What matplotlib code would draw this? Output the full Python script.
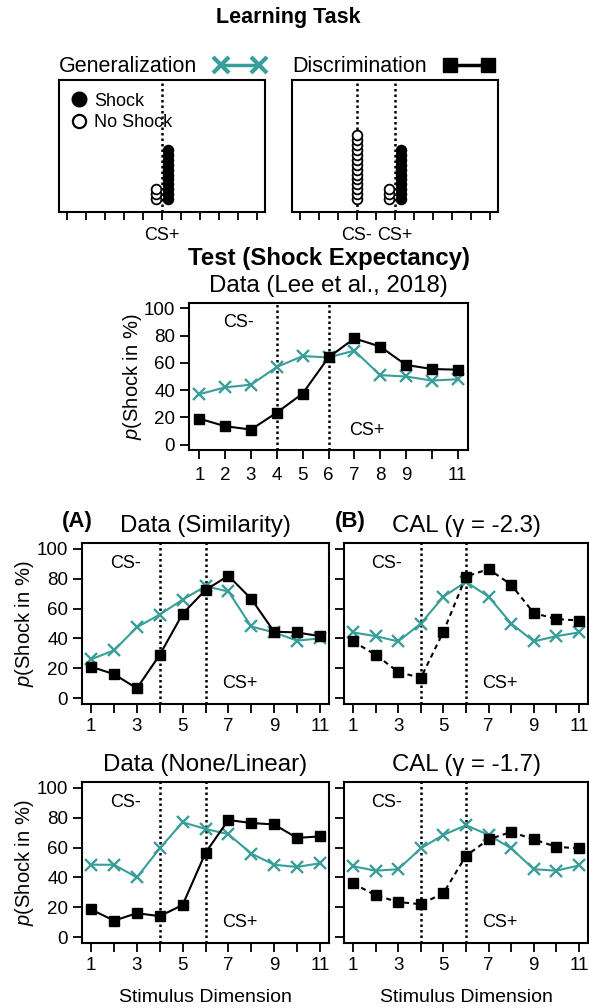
import numpy as np
import matplotlib.pyplot as plt
from matplotlib.lines import Line2D

plt.rcParams['font.family'] = ['Liberation Sans', 'DejaVu Sans']
plt.rcParams['mathtext.fontset'] = 'custom'
plt.rcParams['mathtext.it'] = 'Liberation Sans:italic'
plt.rcParams['mathtext.rm'] = 'Liberation Sans'

teal = "#3a9e98"

# Learning task (number of trials per stimulus)
cs_minus = 4
cs_plus = 6
n_cs_plus_shock = 11
n_cs_plus_noshock = 3
n_cs_minus_noshock = 14

# Test data: p(Shock in %) per stimulus
stim = np.arange(1, 12)
lee_gen = [37, 42, 44, 57, 65, 64, 69, 51, 50, 47, 48]
lee_dis = [19, 13.5, 11, 23.5, 37.5, 64, 78, 72, 58.5, 55.5, 55]
sim_gen = [26, 32, 47.5, 56, 66, 75, 71.5, 48, 44, 38.5, 40]
sim_dis = [21, 16, 6.5, 29, 56.5, 72.5, 82, 66.5, 44.5, 44, 41.5]
cal23_gen = [44, 41.5, 38, 50, 68, 78, 68, 50, 38, 41.5, 44]
cal23_dis = [38, 29, 17.5, 13.5, 44.5, 81.5, 86.5, 76, 57, 53, 52]
lin_gen = [48.5, 48.5, 40, 59.5, 77, 72.5, 69, 56, 48.5, 47, 49.5]
lin_dis = [18.5, 11, 16, 14, 21.5, 56.5, 78.5, 76.5, 75.5, 66.5, 67.5]
cal17_gen = [47.5, 44.5, 45.5, 59.5, 68.5, 75, 68.5, 59.5, 45.5, 44.5, 48]
cal17_dis = [36, 28, 23.5, 22, 29.5, 54.5, 65.5, 70.5, 65.5, 60.5, 59.5]

mid_labels = ['1', '2', '3', '4', '5', '6', '7', '8', '9', '', '11']
odd_labels = ['1', '', '3', '', '5', '', '7', '', '9', '', '11']

W, H = 589, 1008
fig = plt.figure(figsize=(W / 100, H / 100), dpi=100)

dotted = (0, (1, 1.2))


def px_axes(x0, y0, x1, y1):
    return fig.add_axes([x0 / W, 1 - y1 / H, (x1 - x0) / W, (y1 - y0) / H])


def frame(ax):
    for s in ax.spines.values():
        s.set_linewidth(1.5)


def learn_panel(ax, name, handle, labels):
    ax.axvline(cs_plus, color='black', ls=dotted, lw=1.8, zorder=1)
    ax.set_xlim(0.6, 11.4)
    ax.set_ylim(-1.65, 25.3)
    ax.set_xticks(stim)
    ax.set_xticklabels(labels)
    ax.set_yticks([])
    ax.tick_params(axis='x', length=6, width=1.3, labelsize=13, pad=5)
    frame(ax)
    leg = ax.legend([handle], [name], loc='lower left', bbox_to_anchor=(0, 1.02),
                    markerfirst=False, frameon=False, numpoints=2, fontsize=15.5,
                    handlelength=2.35, handletextpad=0.8, borderpad=0, borderaxespad=0)
    return leg


def trial_dots(ax, x, n, filled):
    y = np.arange(1, n + 1)
    ax.plot(np.full(n, x), y, ls='', marker='o', ms=7, mew=1.3,
            mec='black', mfc='black' if filled else 'white', zorder=3)


def test_panel(ax, gen, dis, dis_ls, title, xlabels, ylab=True):
    ax.axvline(cs_minus, color='black', ls=dotted, lw=1.8, zorder=1)
    ax.axvline(cs_plus, color='black', ls=dotted, lw=1.8, zorder=1)
    ax.plot(stim, gen, color=teal, marker='x', ms=9, mew=1.7, lw=1.5, zorder=2)
    ax.plot(stim, dis, color='black', marker='s', ms=7.2, ls=dis_ls, lw=1.5, zorder=3)
    ax.text(2.5, 90, "CS-", ha='center', va='center', fontsize=13)
    ax.text(7.5, 10, "CS+", ha='center', va='center', fontsize=13)
    ax.set_xlim(0.6, 11.4)
    ax.set_ylim(-4, 104)
    ax.set_xticks(stim)
    ax.set_xticklabels(xlabels)
    ax.set_yticks(range(0, 101, 20))
    if ylab:
        ax.set_ylabel(r"$p$(Shock in %)", fontsize=14.5, va='center')
    else:
        ax.set_yticklabels([])
    ax.tick_params(length=6.5, width=1.3, labelsize=13.5)
    frame(ax)
    ax.set_title(title, fontsize=17.3, pad=8)


# Learning task
ax1 = px_axes(59, 80, 265, 212)
ax2 = px_axes(292, 80, 498, 212)
gen_handle = Line2D([], [], color=teal, marker='x', ms=11, mew=3, lw=2.5)
dis_handle = Line2D([], [], color='black', marker='s', ms=10, lw=2.5)
leg1 = learn_panel(ax1, "Generalization", gen_handle,
                   ['', '', '', '', '', 'CS+', '', '', '', '', ''])
learn_panel(ax2, "Discrimination", dis_handle,
            ['', '', '', 'CS-', '', 'CS+', '', '', '', '', ''])
ax2.axvline(cs_minus, color='black', ls=dotted, lw=1.8, zorder=1)

trial_dots(ax1, cs_plus + 0.3, n_cs_plus_shock, True)
trial_dots(ax1, cs_plus - 0.3, n_cs_plus_noshock, False)
trial_dots(ax2, cs_plus + 0.3, n_cs_plus_shock, True)
trial_dots(ax2, cs_plus - 0.3, n_cs_plus_noshock, False)
trial_dots(ax2, cs_minus, n_cs_minus_noshock, False)

ax1.add_artist(leg1)
shock_h = Line2D([], [], ls='', marker='o', ms=10.5, mfc='black', mec='black')
noshock_h = Line2D([], [], ls='', marker='o', ms=9.5, mfc='white', mec='black', mew=1.6)
ax1.legend([shock_h, noshock_h], ["Shock", "No Shock"], loc='upper left',
           frameon=False, fontsize=13, handlelength=0.8, handletextpad=0.45,
           borderaxespad=0.3, labelspacing=0.25)

fig.text(288 / W, 1 - 18 / H, "Learning Task", ha='center', va='center',
         fontsize=15.5, fontweight='bold')

# Test (Lee et al.)
fig.text(328.5 / W, 1 - 258 / H, "Test (Shock Expectancy)", ha='center', va='center',
         fontsize=17.3, fontweight='bold')
axm = px_axes(189, 303, 468, 450)
test_panel(axm, lee_gen, lee_dis, '-', "Data (Lee et al., 2018)", mid_labels)
axm.tick_params(axis='x', pad=6)
axm.yaxis.set_label_coords(-56 / 279, 0.5)

# Model comparisons
axA = px_axes(82, 543, 329, 704)
axB = px_axes(344, 543, 588, 704)
axC = px_axes(82, 782, 329, 943)
axD = px_axes(344, 782, 588, 943)
test_panel(axA, sim_gen, sim_dis, '-', "Data (Similarity)", odd_labels)
test_panel(axB, cal23_gen, cal23_dis, (0, (2.4, 2)), "CAL (\u03b3 = -2.3)", odd_labels, ylab=False)
test_panel(axC, lin_gen, lin_dis, '-', "Data (None/Linear)", odd_labels)
test_panel(axD, cal17_gen, cal17_dis, (0, (2.4, 2)), "CAL (\u03b3 = -1.7)", odd_labels, ylab=False)
for ax in (axA, axC):
    ax.yaxis.set_label_coords(-57 / 247, 0.5)
for ax in (axC, axD):
    ax.set_xlabel("Stimulus Dimension", fontsize=14, labelpad=11)

fig.text(77 / W, 1 - 522 / H, "(A)", ha='center', va='center', fontsize=16, fontweight='bold')
fig.text(350 / W, 1 - 522 / H, "(B)", ha='center', va='center', fontsize=16, fontweight='bold')

plt.savefig("out.png", dpi=100)
